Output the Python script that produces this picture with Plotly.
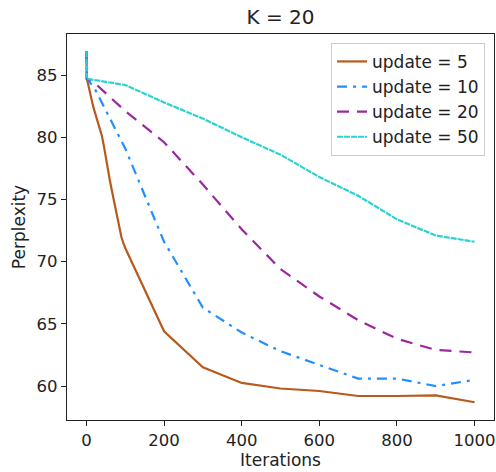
import plotly.graph_objects as go

# update = 5
it5 = [0, 1, 5, 10, 15, 20, 25, 30, 35, 40, 45, 50, 55, 60, 65, 70, 75, 80, 85, 90, 95, 100,
       200, 300, 400, 500, 600, 700, 800, 900, 1000]
pp5 = [86.9, 84.7, 84.2, 83.4, 82.8, 82.2, 81.7, 81.2, 80.7, 80.1, 79.3, 78.3, 77.4, 76.6,
       75.8, 75.0, 74.2, 73.4, 72.6, 72.0, 71.5, 71.1,
       64.4, 61.5, 60.25, 59.8, 59.6, 59.2, 59.2, 59.25, 58.7]
# update = 10
it10 = [0, 1, 20, 50, 100, 200, 300, 400, 500, 600, 700, 800, 900, 1000]
pp10 = [86.9, 84.7, 84.0, 82.2, 79.1, 71.6, 66.3, 64.3, 62.8, 61.7, 60.6, 60.6, 60.0, 60.5]
# update = 20
it20 = [0, 1, 20, 100, 200, 300, 400, 500, 600, 700, 800, 900, 1000]
pp20 = [86.9, 84.7, 84.4, 82.1, 79.6, 76.2, 72.6, 69.4, 67.2, 65.3, 63.8, 62.9, 62.7]
# update = 50
it50 = [0, 1, 100, 200, 300, 400, 500, 600, 700, 800, 900, 1000]
pp50 = [86.9, 84.7, 84.2, 82.8, 81.5, 80.0, 78.6, 76.8, 75.3, 73.4, 72.1, 71.6]

names = ["update = 5", "update = 10", "update = 20", "update = 50"]
xticks = [0, 200, 400, 600, 800, 1000]
yticks = [60, 65, 70, 75, 80, 85]

series = [
    (it5, pp5, names[0], "#b85a1e", "solid"),
    (it10, pp10, names[1], "#1e90ff", "10px,6px,3px,6px"),
    (it20, pp20, names[2], "#9c27a0", "12px,8px"),
    (it50, pp50, names[3], "#2ad2d2", "6px,1px"),
]

fig = go.Figure()
for x, y, n, c, d in series:
    fig.add_trace(go.Scatter(x=x, y=y, name=n, mode="lines",
                             line=dict(color=c, width=2.2, dash=d)))

font = "DejaVu Sans, sans-serif"
axis_common = dict(showline=True, linecolor="#222", linewidth=1.2, mirror=True,
                   ticks="outside", ticklen=5, tickwidth=1.2, tickcolor="#222",
                   showgrid=False, zeroline=False, automargin=False,
                   tickfont=dict(family=font, size=16.5, color="#222"))
W, H = 496, 472
fig.update_layout(
    width=W, height=H,
    margin=dict(l=67, r=2, t=34, b=52),
    paper_bgcolor="white", plot_bgcolor="white",
    title=dict(text="K = 20", x=0.5, xref="paper", xanchor="center",
               y=1 - 17 / H, yref="container", yanchor="middle",
               font=dict(family=font, size=20, color="#222")),
    xaxis=dict(range=[-50, 1050], tickvals=xticks,
               title=dict(text="Iterations", standoff=3,
                          font=dict(family=font, size=17, color="#222")),
               **axis_common),
    yaxis=dict(range=[57.27, 88.3], tickvals=yticks,
               title=dict(text="Perplexity", standoff=6,
                          font=dict(family=font, size=17, color="#222")),
               **axis_common),
    legend=dict(x=0.979, y=0.977, xanchor="right", yanchor="top",
                bgcolor="rgba(255,255,255,0.8)", bordercolor="#cccccc", borderwidth=1,
                font=dict(family=font, size=17, color="#222"),
                tracegroupgap=0),
    showlegend=True,
)

fig.write_html("out.html",
               config={"displayModeBar": False},
               post_script="document.body.style.margin='0';document.body.style.overflow='hidden';")
